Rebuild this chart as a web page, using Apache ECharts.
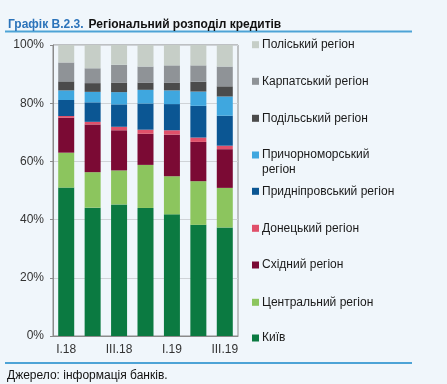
<!DOCTYPE html>
<html><head><meta charset="utf-8">
<script src="https://cdn.jsdelivr.net/npm/echarts@6/dist/echarts.min.js"></script>
<style>html,body{margin:0;padding:0;background:#f0f6fb;}#c{width:447px;height:384px;}</style>
</head><body><div id="c"></div>
<script>
const categories = ['I.18','II.18','III.18','IV.18','I.19','II.19','III.19'];
const seriesNames = ['Київ','Центральний регіон','Східний регіон','Донецький регіон','Придніпровський регіон','Причорноморський регіон','Подільський регіон','Карпатський регіон','Поліський регіон'];
const kyiv        = [51.0, 44.1, 45.2, 44.0, 41.8, 38.2, 37.3];
const central     = [12.0, 12.2, 11.7, 14.8, 13.1, 15.0, 13.6];
const east        = [12.0, 16.4, 13.8, 10.7, 14.3, 13.5, 13.3];
const donetsk     = [0.6, 0.9, 1.2, 1.4, 1.5, 1.5, 1.2];
const prydnipro   = [5.5, 6.7, 7.7, 9.0, 9.0, 10.9, 10.3];
const prychorno   = [3.3, 3.6, 4.2, 4.7, 4.7, 4.9, 6.6];
const podillia    = [3.1, 3.0, 3.3, 2.5, 2.7, 3.4, 3.5];
const karpaty     = [6.5, 5.1, 6.1, 5.5, 5.9, 5.6, 6.8];
const polissia    = [6.0, 8.1, 6.8, 7.4, 7.0, 7.0, 7.4];
const yTicks = [0, 20, 40, 60, 80, 100];

const values = [kyiv, central, east, donetsk, prydnipro, prychorno, podillia, karpaty, polissia];
const colors = ['#0b7a41','#8cc55e','#7b0a34','#e0506a','#0b5693','#3fa7df','#4b4b4b','#8f9397','#c6cec7'];
const FONT = '"Liberation Sans", Arial, sans-serif';

const chart = echarts.init(document.getElementById('c'));
const legendCenters = [339, 303.3, 266, 229.3, 192.3, 156, 119.3, 82.3, 45.7];
const legends = seriesNames.map((n, i) => ({
  data: [n], left: 252, top: legendCenters[i] - 7, orient: 'vertical', padding: 0,
  itemWidth: 7, itemHeight: 7, icon: 'rect', itemGap: 4,
  selectedMode: false,
  formatter: nm => nm === 'Причорноморський регіон' ? 'Причорноморський' : nm,
  textStyle: { fontFamily: FONT, fontSize: 12, color: '#1a1a1a', padding: [0,0,0,-2] }
}));

chart.setOption({
  backgroundColor: '#f0f6fb',
  animation: false,
  textStyle: { fontFamily: FONT },
  title: {
    left: 8, top: 16, padding: 0,
    text: '{a|Графік В.2.3.} {b|Регіональний розподіл кредитів}',
    textStyle: { rich: {
      a: { fontFamily: FONT, fontSize: 12, fontWeight: 'bold', color: '#2b73ba' },
      b: { fontFamily: FONT, fontSize: 12, fontWeight: 'bold', color: '#111' }
    } }
  },
  legend: legends,
  grid: { left: 53, right: 209, top: 45, bottom: 48, show: true, borderColor: '#8a8a8a', borderWidth: 1, backgroundColor: 'transparent' },
  xAxis: {
    type: 'category', data: categories,
    axisLine: { lineStyle: { color: '#8a8a8a' } },
    axisTick: { inside: true, length: 3, lineStyle: { color: '#8a8a8a' } },
    axisLabel: { interval: 1, fontSize: 12, color: '#333', margin: 8, fontFamily: FONT }
  },
  yAxis: {
    type: 'value', min: yTicks[0], max: yTicks[yTicks.length - 1], interval: 20,
    axisLine: { show: true, lineStyle: { color: '#8a8a8a' } },
    axisTick: { show: true, length: 3, lineStyle: { color: '#8a8a8a' } },
    splitLine: { lineStyle: { color: '#cfd3d7', width: 1 } },
    axisLabel: { formatter: '{value}%', fontSize: 12, color: '#333', margin: 9, fontFamily: FONT }
  },
  series: seriesNames.map((n, i) => ({
    name: n, type: 'bar', stack: 'total', data: values[i], barWidth: 16,
    itemStyle: { color: colors[i] }
  })),
  graphic: [
    { type: 'line', shape: { x1: 5, y1: 31.5, x2: 412, y2: 31.5 }, style: { stroke: '#4da3d6', lineWidth: 2 } },
    { type: 'line', shape: { x1: 5, y1: 363, x2: 412, y2: 363 }, style: { stroke: '#4da3d6', lineWidth: 2 } },
    { type: 'text', left: 7, top: 370, style: { text: 'Джерело: інформація банків.', font: '12px ' + FONT, fill: '#111' } },
    { type: 'text', left: 262, top: 164, style: { text: 'регіон', font: '12px ' + FONT, fill: '#1a1a1a' } }
  ]
});
</script></body></html>
